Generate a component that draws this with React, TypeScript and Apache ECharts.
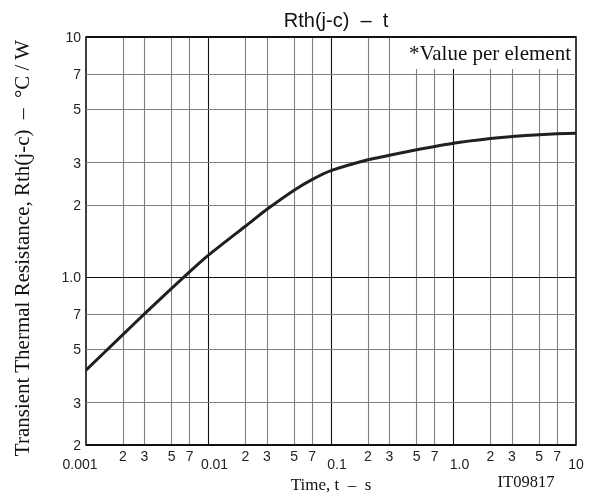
import React, { useEffect, useRef } from "react";
import * as echarts from "echarts";

// Curve: transient thermal resistance vs time
const timeValues = [0.001, 0.002, 0.003, 0.005, 0.007, 0.01, 0.02, 0.03, 0.05, 0.07, 0.1, 0.2, 0.3, 0.5, 1, 2, 3, 5, 7, 10];
const rthValues = [0.41, 0.576, 0.703, 0.898, 1.052, 1.235, 1.629, 1.916, 2.303, 2.547, 2.775, 3.08, 3.22, 3.39, 3.61, 3.775, 3.85, 3.92, 3.954, 3.977];

// x grid / tick labels
const xDecadeLines = [0.01, 0.1, 1];
const xMinorLines = [0.002, 0.003, 0.005, 0.007, 0.02, 0.03, 0.05, 0.07, 0.2, 0.3, 0.5, 0.7, 2, 3, 5, 7];
const xMinorLabels = ["2", "3", "5", "7", "2", "3", "5", "7", "2", "3", "5", "7", "2", "3", "5", "7"];
const xDecadeTickLabels: Record<string, string> = { "-3": "{l|0.001}", "-2": "{r|0.01}", "-1": "{r|0.1}", "0": "{r|1.0}", "1": "{n|10}" };

// y grid / tick labels
const yLines = [0.2, 0.3, 0.5, 0.7, 1, 2, 3, 5, 7, 10];
const yLabels = ["2", "3", "5", "7", "1.0", "2", "3", "5", "7", "10"];

const SANS = "'Liberation Sans', Arial, Helvetica, sans-serif";
const SERIF = "'Liberation Serif', 'Times New Roman', Times, serif";

export default function App() {
  const ref = useRef<HTMLDivElement>(null);
  useEffect(() => {
    if (!ref.current) return;
    const chart = echarts.init(ref.current, undefined, { renderer: "svg" });
    const tickLabel = { color: "#222", fontSize: 14, fontFamily: SANS };

    const markData: any[] = [];
    xDecadeLines.forEach((v) => {
      markData.push({ xAxis: v, lineStyle: { color: "#111", width: 1.1, type: "solid" }, label: { show: false } });
    });
    xMinorLines.forEach((v, i) => {
      markData.push({
        xAxis: v,
        lineStyle: { color: "#808080", width: 1.1, type: "solid" },
        label: { show: true, position: "start", distance: 4, formatter: xMinorLabels[i], ...tickLabel },
      });
    });
    yLines.forEach((v, i) => {
      const border = v === 0.2 || v === 10;
      markData.push({
        yAxis: v,
        lineStyle: {
          color: border ? "#000" : v === 1 ? "#111" : "#808080",
          width: border ? 1.5 : 1.1,
          type: "solid",
        },
        label: { show: true, position: "start", distance: 5, formatter: yLabels[i], ...tickLabel },
      });
    });

    chart.setOption({
      animation: false,
      title: {
        text: "Rth(j-c)  \u2013  t",
        left: 331,
        top: 5,
        textAlign: "center",
        textStyle: { fontFamily: SANS, fontSize: 20, fontWeight: "normal", color: "#111" },
      },
      grid: {
        left: 86,
        right: 20,
        top: 37,
        bottom: 50,
        outerBoundsMode: "none",
        containLabel: false,
        show: true,
        borderColor: "#000",
        borderWidth: 1.5,
        backgroundColor: "transparent",
      },
      xAxis: {
        type: "log",
        logBase: 10,
        min: 0.001,
        max: 10,
        name: "Time, t  \u2013  s",
        nameLocation: "middle",
        nameGap: 25,
        nameTextStyle: { fontFamily: SERIF, fontSize: 17, color: "#111" },
        axisLine: { show: false },
        axisTick: { show: false },
        splitLine: { show: false },
        axisLabel: {
          show: true,
          margin: 12,
          showMinLabel: true,
          showMaxLabel: true,
          formatter: (v: number) => xDecadeTickLabels[String(Math.round(Math.log10(v)))] ?? "",
          ...tickLabel,
          rich: {
            l: { ...tickLabel, padding: [0, 12, 0, 0] },
            r: { ...tickLabel, padding: [0, 0, 0, 12] },
            n: { ...tickLabel },
          },
        },
      },
      yAxis: {
        type: "log",
        logBase: 10,
        min: 0.2,
        max: 10,
        axisLine: { show: false },
        axisTick: { show: false },
        splitLine: { show: false },
        axisLabel: { show: false },
      },
      graphic: [
        {
          type: "text",
          z: 101,
          x: 22,
          y: 248,
          rotation: Math.PI / 2,
          style: {
            text: "Transient Thermal Resistance, Rth(j-c)  \u2013  \u00b0C / W",
            fill: "#111",
            font: `21px ${SERIF}`,
            textAlign: "center",
            textVerticalAlign: "middle",
          },
        },
        {
          type: "rect",
          z: 100,
          shape: { x: 393, y: 38, width: 182, height: 31 },
          style: { fill: "#fff" },
        },
        {
          type: "text",
          z: 101,
          x: 571,
          y: 53,
          style: {
            text: "*Value per element",
            fill: "#111",
            font: `21px ${SERIF}`,
            textAlign: "right",
            textVerticalAlign: "middle",
          },
        },
        {
          type: "text",
          z: 101,
          x: 526,
          y: 481,
          style: {
            text: "IT09817",
            fill: "#111",
            font: `16.5px ${SERIF}`,
            textAlign: "center",
            textVerticalAlign: "middle",
          },
        },
      ],
      series: [
        {
          type: "line",
          data: timeValues.map((t, i) => [t, rthValues[i]]),
          smooth: 0.15,
          showSymbol: false,
          lineStyle: { color: "#231f20", width: 3 },
          z: 5,
          markLine: {
            silent: true,
            symbol: ["none", "none"],
            animation: false,
            precision: 6,
            z: 1,
            data: markData,
          },
        },
      ],
    });
    return () => chart.dispose();
  }, []);
  return <div ref={ref} style={{ position: "fixed", left: 0, top: 0, width: 596, height: 495 }} />;
}
